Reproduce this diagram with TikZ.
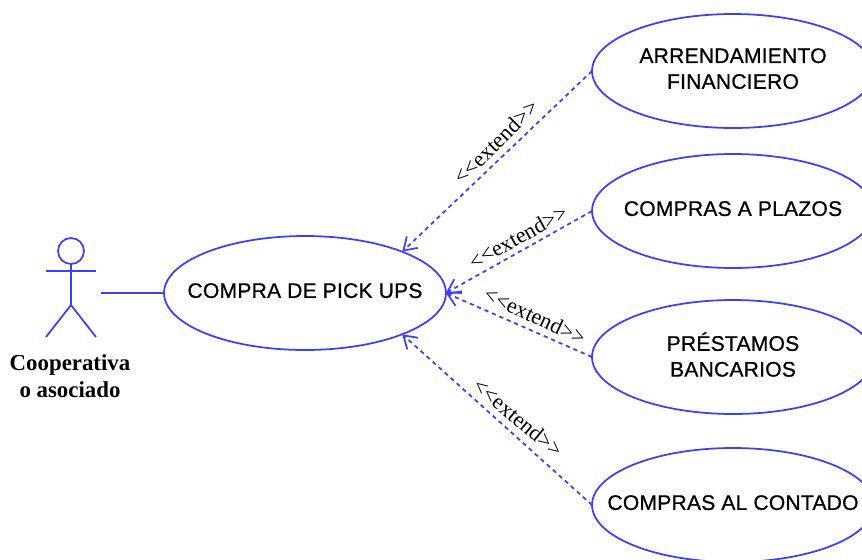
\documentclass[tikz,border=0pt]{standalone}
\usepackage{fontspec}
\setmainfont{Liberation Serif}
\newfontface\casefont{Liberation Sans}[FakeBold=0.7,LetterSpace=1]
\usetikzlibrary{shapes.geometric,arrows.meta}
\definecolor{umlBlue}{RGB}{62,62,255}
\newcommand{\linThick}{1pt}
\newcommand{\caseOffx}{733}
\tikzset{
  usecase/.style={ellipse, draw=umlBlue, line width=\linThick, minimum width=5.64cm, minimum height=2.28cm, inner xsep=-1.2cm, inner ysep=0pt, outer sep=0pt, align=center, text depth=2.8pt, font=\casefont\fontsize{12}{14.7}\selectfont},
  extendline/.style={draw=umlBlue, line width=\linThick, dash pattern=on 2.4pt off 2.2pt, -{Straight Barb[length=7pt,width=9pt,line width=\linThick]}},
  extendlabel/.style={inner sep=0pt, font=\fontsize{12.6}{14}\selectfont},
  actorline/.style={draw=umlBlue, line width=\linThick},
}

\begin{document}
\begin{tikzpicture}[x=0.02cm, y=-0.02cm]

  \useasboundingbox (0,0) rectangle (862,559);
  \clip (0,0) rectangle (862,559);

  % Use cases:
  \node[usecase] (compra) at (305,293) {COMPRA DE PICK UPS};
  \node[usecase] (arrendamiento) at (\caseOffx, 71) {ARRENDAMIENTO\\FINANCIERO};
  \node[usecase] (plazos) at (\caseOffx,211) {COMPRAS A PLAZOS};
  \node[usecase] (prestamos) at (\caseOffx,357) {PRÉSTAMOS\\BANCARIOS};
  \node[usecase] (contado) at (\caseOffx,505) {COMPRAS AL CONTADO};

  % Actor:
  \node[circle, draw=umlBlue, line width=\linThick, minimum size=0.52cm, inner sep=0pt, outer sep=0pt] (head) at (71,251) {};
  \coordinate (armL) at (46,271);
  \coordinate (armR) at (96,271);
  \coordinate (hip) at (71,305);
  \coordinate (legL) at (46,337);
  \coordinate (legR) at (96,337);
  \coordinate (hand) at (101,293);
  \draw[actorline] (head.south) -- (hip);
  \draw[actorline] (armL) -- (armR);
  \draw[actorline] (legL) -- (hip) -- (legR);
  \node[align=center, inner sep=0pt, font=\bfseries\fontsize{13}{15.6}\selectfont] (actor) at (70,376) {Cooperativa\\o asociado};

  % Association:
  \draw[actorline] (hand) -- (compra.west);

  % Extends:
  \draw[extendline] (arrendamiento.west) -- (compra.23);
  \draw[extendline] (plazos.west) -- (compra.east);
  \draw[extendline] (prestamos.west) -- (compra.east);
  \draw[extendline] (contado.west) -- (compra.-23);

  % Labels:
  \node[extendlabel, rotate=45] (labelA) at (496,142) {<{}<extend>{}>};
  \node[extendlabel, rotate=29] (labelB) at (518,237) {<{}<extend>{}>};
  \node[extendlabel, rotate=-25] (labelC) at (535,316) {<{}<extend>{}>};
  \node[extendlabel, rotate=-40] (labelD) at (518,418) {<{}<extend>{}>};

\end{tikzpicture}
\end{document}
